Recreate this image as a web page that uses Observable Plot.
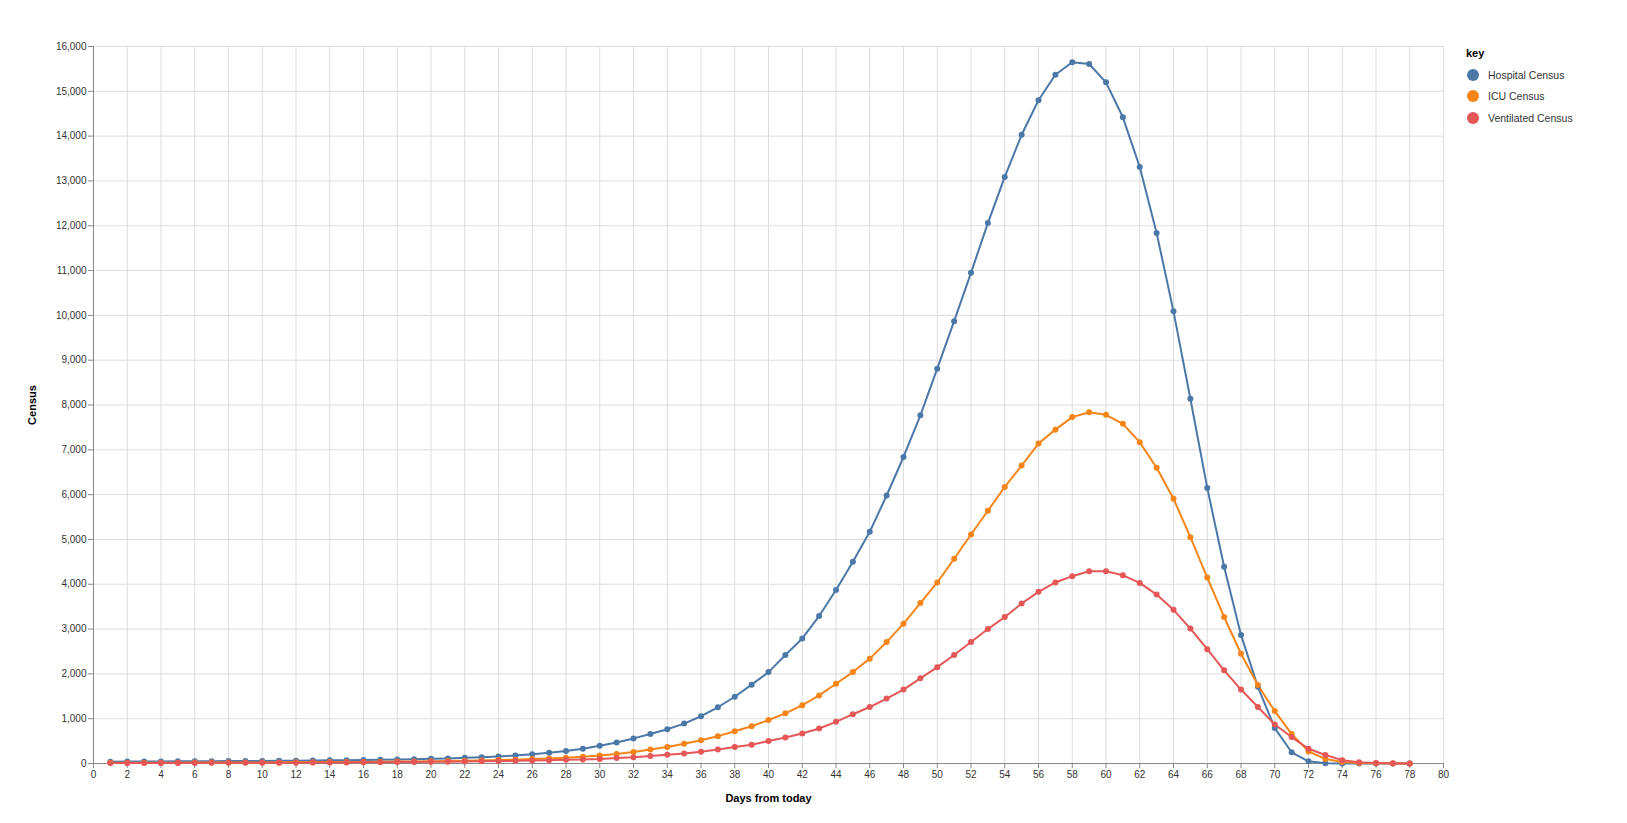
<!DOCTYPE html>
<html>
<head>
<meta charset="utf-8">
<script src="https://cdn.jsdelivr.net/npm/d3@7"></script>
<script src="https://cdn.jsdelivr.net/npm/@observablehq/plot@0.6"></script>
<style>
  html, body { margin: 0; padding: 0; background: #fff; }
  #wrap { position: relative; width: 1627px; height: 823px; font-family: "Liberation Sans", Arial, sans-serif; }
  #legend { position: absolute; left: 1466px; top: 47px; font-size: 10.5px; color: #333; }
  #legend .title { font-weight: bold; font-size: 11px; color: #000; margin-bottom: 5px; }
  #legend .item { display: flex; align-items: center; height: 21.5px; }
  #legend .sw { width: 12px; height: 12px; border-radius: 50%; margin-right: 9px; margin-left: 1px; }
</style>
</head>
<body>
<div id="wrap"><div id="chart"></div><div id="legend"></div></div>
<script>
const keys = ["Hospital Census", "ICU Census", "Ventilated Census"];
const colors = ["#4c78a8", "#f58518", "#e45756"];

const days = [1,2,3,4,5,6,7,8,9,10,11,12,13,14,15,16,17,18,19,20,21,22,23,24,25,26,27,28,29,30,31,32,33,34,35,36,37,38,39,40,41,42,43,44,45,46,47,48,49,50,51,52,53,54,55,56,57,58,59,60,61,62,63,64,65,66,67,68,69,70,71,72,73,74,75,76,77,78];

const hospital = [40,42,44,46,48,50,52,54,56,58,60,63,66,70,74,79,84,90,97,105,114,126,140,157,180,207,240,280,330,395,470,560,660,765,890,1055,1255,1490,1760,2040,2420,2790,3290,3870,4500,5170,5980,6840,7770,8810,9870,10950,12060,13090,14030,14800,15370,15650,15610,15200,14420,13310,11840,10090,8140,6150,4390,2870,1710,790,250,50,5,0,0,0,0,0];

const icu = [15,16,17,18,19,20,21,22,23,24,25,27,29,31,33,36,39,42,46,50,55,61,68,76,86,98,112,128,150,178,210,258,310,370,440,520,610,720,830,970,1120,1300,1520,1780,2040,2340,2710,3120,3580,4040,4570,5110,5640,6170,6650,7140,7450,7730,7840,7780,7580,7170,6600,5910,5050,4150,3270,2450,1750,1170,660,270,100,35,10,3,1,0];

const ventilated = [10,11,11,12,12,13,14,15,16,17,18,19,20,22,24,26,28,31,34,37,40,44,49,54,60,66,73,81,90,100,120,140,170,195,225,262,310,370,420,500,580,670,780,930,1100,1260,1450,1650,1900,2150,2420,2710,3000,3270,3570,3830,4040,4180,4290,4290,4200,4030,3770,3430,3010,2550,2080,1650,1260,870,590,330,190,75,30,12,4,1];

const xTicks = [0,2,4,6,8,10,12,14,16,18,20,22,24,26,28,30,32,34,36,38,40,42,44,46,48,50,52,54,56,58,60,62,64,66,68,70,72,74,76,78,80];
const yTicks = [0,1000,2000,3000,4000,5000,6000,7000,8000,9000,10000,11000,12000,13000,14000,15000,16000];

const series = [hospital, icu, ventilated];
const data = [];
keys.forEach((k, i) => days.forEach((d, j) => data.push({day: d, key: k, value: series[i][j]})));

const chart = Plot.plot({
  width: 1627,
  height: 823,
  marginLeft: 93,
  marginRight: 184,
  marginTop: 46,
  marginBottom: 60,
  style: {fontFamily: '"Liberation Sans", Arial, sans-serif', fontSize: "10px", color: "#333", background: "#fff"},
  x: {domain: [0, 80]},
  y: {domain: [0, 16000]},
  color: {domain: keys, range: colors},
  marks: [
    Plot.gridX(xTicks, {stroke: "#ddd", strokeOpacity: 1}),
    Plot.gridY(yTicks, {stroke: "#ddd", strokeOpacity: 1}),
    Plot.ruleY([0], {stroke: "#888"}),
    Plot.ruleX([0], {stroke: "#888"}),
    Plot.axisX(xTicks, {tickSize: 5, tickPadding: 2, stroke: "#888", fill: "#333", label: null, fontSize: 10}),
    Plot.axisY(yTicks, {tickSize: 5, tickPadding: 2, stroke: "#888", fill: "#333", label: null, fontSize: 10, tickFormat: d3.format(",")}),
    Plot.text(["Days from today"], {frameAnchor: "bottom", dy: 35, fontWeight: "bold", fontSize: 11, fill: "#000", lineAnchor: "middle"}),
    Plot.text(["Census"], {frameAnchor: "left", dx: -61, rotate: -90, textAnchor: "middle", lineAnchor: "middle", fontWeight: "bold", fontSize: 11, fill: "#000"}),
    Plot.line(data, {x: "day", y: "value", stroke: "key", z: "key", strokeWidth: 2}),
    Plot.dot(data, {x: "day", y: "value", fill: "key", r: 3})
  ]
});
document.getElementById("chart").appendChild(chart);

const lg = document.getElementById("legend");
const t = document.createElement("div");
t.className = "title";
t.textContent = "key";
lg.appendChild(t);
keys.forEach((k, i) => {
  const it = document.createElement("div");
  it.className = "item";
  const sw = document.createElement("span");
  sw.className = "sw";
  sw.style.background = colors[i];
  const tx = document.createElement("span");
  tx.textContent = k;
  it.appendChild(sw);
  it.appendChild(tx);
  lg.appendChild(it);
});
</script>
</body>
</html>
